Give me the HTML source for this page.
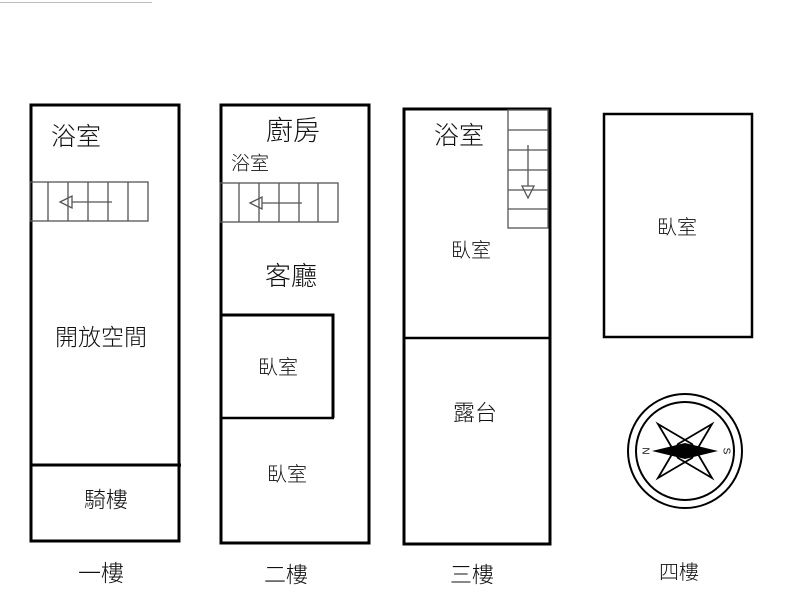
<!DOCTYPE html>
<html><head><meta charset="utf-8"><style>html,body{margin:0;padding:0;background:#fff}svg{display:block}text{font-family:"Liberation Sans","Noto Sans CJK TC",sans-serif;fill:#111;text-anchor:middle;dominant-baseline:central;font-weight:300}</style></head>
<body>
<svg width="800" height="600" viewBox="0 0 800 600">
<line x1="0" y1="2.5" x2="152" y2="2.5" stroke="#bbb" stroke-width="1"/>
<g fill="none" stroke="#000" stroke-width="3">
<rect x="31" y="105" width="148" height="436"/>
<line x1="31" y1="465" x2="181" y2="465"/>
<rect x="221" y="105" width="148" height="438"/>
<polyline points="221,315 333,315 333,418"/>
<line x1="221" y1="418" x2="334" y2="418" stroke-width="2.5"/>
<rect x="404" y="109" width="146" height="435"/>
<line x1="403" y1="338" x2="550" y2="338" stroke-width="2.5"/>
<rect x="604" y="114" width="148" height="223" stroke-width="2.5"/>
</g>
<g fill="none" stroke="#555" stroke-width="1.3">
<rect x="30" y="182" width="118" height="39"/>
<path d="M48 182V221M68 182V221M88 182V221M108 182V221M128 182V221"/>
<line x1="72" y1="202" x2="112" y2="202"/>
<polygon points="60,202 72,196 72,208"/>
<rect x="220" y="183" width="118" height="39"/>
<path d="M239 183V222M259 183V222M279 183V222M299 183V222M318 183V222"/>
<line x1="262" y1="203" x2="302" y2="203"/>
<polygon points="250,203 262,197 262,209"/>
<rect x="508" y="110" width="40" height="118"/>
<path d="M508 130H548M508 150H548M508 170H548M508 190H548M508 209H548"/>
<line x1="528" y1="145" x2="528" y2="186"/>
<polygon points="528,198 522,186 534,186"/>
</g>
<g>
<circle cx="685" cy="451" r="57" fill="none" stroke="#000" stroke-width="2"/>
<circle cx="685" cy="451" r="49" fill="none" stroke="#000" stroke-width="2"/>
<polygon points="658,424 692,444 712,478 678,458" fill="none" stroke="#000" stroke-width="1.8"/>
<polygon points="712,424 692,458 658,478 678,444" fill="none" stroke="#000" stroke-width="1.8"/>
<polygon points="652,451 685,443 718,451 685,459" fill="#000"/>
<text x="645" y="451" font-size="10" transform="rotate(90 645 451)">N</text>
<text x="726" y="451" font-size="10" transform="rotate(90 726 451)">S</text>
</g>
<text x="76" y="137" font-size="25">浴室</text>
<text x="293" y="131" font-size="27">廚房</text>
<text x="250" y="164" font-size="19">浴室</text>
<text x="291" y="276" font-size="26">客廳</text>
<text x="101" y="337" font-size="23">開放空間</text>
<text x="106" y="500" font-size="22">騎樓</text>
<text x="278" y="368" font-size="20">臥室</text>
<text x="287" y="475" font-size="20">臥室</text>
<text x="459" y="136" font-size="25">浴室</text>
<text x="471" y="251" font-size="20">臥室</text>
<text x="475" y="413" font-size="22">露台</text>
<text x="677" y="228" font-size="20">臥室</text>
<text x="101" y="573" font-size="23">一樓</text>
<text x="286" y="575" font-size="22">二樓</text>
<text x="472" y="575" font-size="22">三樓</text>
<text x="679" y="573" font-size="20">四樓</text>
</svg>
</body></html>
